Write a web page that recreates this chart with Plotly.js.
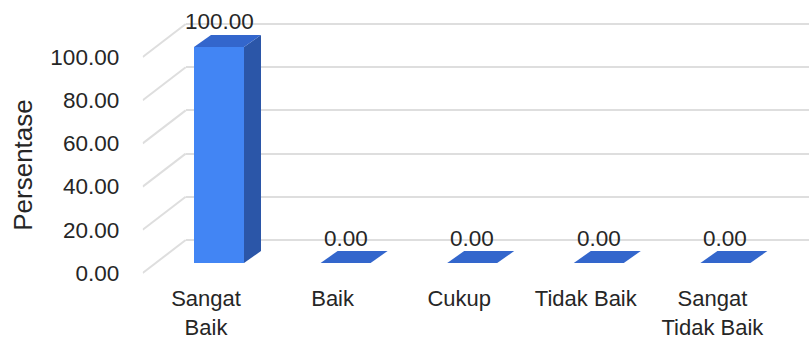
<!DOCTYPE html>
<html>
<head>
<meta charset="utf-8">
<script src="https://cdn.plot.ly/plotly-3.0.1.min.js"></script>
<style>
  html, body { margin: 0; padding: 0; background: #ffffff; }
  #chart { width: 809px; height: 340px; }
</style>
</head>
<body>
<div id="chart"></div>
<script>
// ---- data ----
const categories = ['Sangat Baik', 'Baik', 'Cukup', 'Tidak Baik', 'Sangat Tidak Baik'];
const tickLabels = ['Sangat<br>Baik', 'Baik', 'Cukup', 'Tidak Baik', 'Sangat<br>Tidak Baik'];
const values = [100, 0, 0, 0, 0];
const yTicks = [0, 20, 40, 60, 80, 100];
const yTitle = 'Persentase';

// ---- geometry of the pseudo-3D box (pixels) ----
const W = 809, H = 340;
const frontLeft = 142.7;      // left edge of the front plane
const catPx = 126.6;          // pixels per category slot
const zeroPx = 273;           // front-plane y of value 0
const unitPx = 2.16;          // pixels per value unit
const floorDepth = [43, 33];  // front plane -> back wall
const barInset = [13, 10];    // front plane -> bar front face
const barDepth = [17, 12];    // bar front face -> bar back face
const barWidthPx = 50;
const yLo = -25, yHi = 125;   // symmetric pad so the title centres on 0..100

const DX = floorDepth[0] / catPx, DY = floorDepth[1] / unitPx;
const barW = barWidthPx / catPx;
const barX = -(floorDepth[0] - barInset[0]) / catPx;
const barBase = -(floorDepth[1] - barInset[1]) / unitPx;
const bdx = barDepth[0] / catPx, bdy = barDepth[1] / unitPx;

const yDomain = [(H - (zeroPx - yLo * unitPx)) / H, (H - (zeroPx - yHi * unitPx)) / H];
const idx = categories.map((_, i) => i);

const family = 'Liberation Sans, Arial, sans-serif';
const textCol = '#262626';
const font = { family: family, size: 22.5, color: textCol };
const catFont = { family: family, size: 22, color: textCol };
const gridCol = '#dedede';
const frontCol = '#4285f4', sideCol = '#2b56a8', topCol = '#3366cc';

// bar front faces on the back-wall axes
const bars = {
  type: 'bar', x: idx, y: values, base: barBase,
  width: barW, offset: barX - barW / 2,
  marker: { color: frontCol, line: { width: 0 } },
  hoverinfo: 'skip', showlegend: false, xaxis: 'x', yaxis: 'y'
};
// empty trace that keeps the front-plane subplot alive
const frontPlane = {
  type: 'scatter', mode: 'markers', x: [], y: [],
  xaxis: 'x2', yaxis: 'y2', hoverinfo: 'skip', showlegend: false
};

const shapes = [];
values.forEach((v, i) => {
  const xl = i + barX - barW / 2, xr = xl + barW;
  const yb = barBase, yt = barBase + v;
  if (v > 0) {
    shapes.push({
      type: 'path', xref: 'x', yref: 'y', layer: 'above',
      path: `M${xr},${yb} L${xr + bdx},${yb + bdy} L${xr + bdx},${yt + bdy} L${xr},${yt} Z`,
      fillcolor: sideCol, line: { width: 0 }
    });
  }
  shapes.push({
    type: 'path', xref: 'x', yref: 'y', layer: 'above',
    path: `M${xl},${yt} L${xr},${yt} L${xr + bdx},${yt + bdy} L${xl + bdx},${yt + bdy} Z`,
    fillcolor: topCol, line: { width: 0 }
  });
});
// floor-to-wall connectors for each tick
yTicks.forEach(t => {
  shapes.push({
    type: 'line', xref: 'x2', yref: 'y2', layer: 'below',
    x0: -0.5, y0: t, x1: -0.5 + DX, y1: t + DY,
    line: { color: gridCol, width: 2 }
  });
});

const annotations = values.map((v, i) => ({
  xref: 'x', yref: 'y', x: i + barX, y: barBase + v + bdy,
  text: v.toFixed(2), showarrow: false, yanchor: 'middle', yshift: 13,
  font: font
}));

const layout = {
  width: W, height: H,
  margin: { l: 0, r: 0, t: 0, b: 0 },
  paper_bgcolor: '#ffffff', plot_bgcolor: 'rgba(0,0,0,0)',
  font: font,
  showlegend: false,
  // back wall
  xaxis: {
    domain: [(frontLeft + floorDepth[0]) / W, 1],
    range: [-0.5, -0.5 + (W - frontLeft - floorDepth[0]) / catPx],
    showgrid: false, zeroline: false, showticklabels: false, showline: false,
    fixedrange: true
  },
  yaxis: {
    domain: yDomain,
    range: [yLo - DY, yHi - DY],
    tickvals: yTicks, showticklabels: false,
    showgrid: true, gridcolor: gridCol, gridwidth: 2,
    zeroline: false, showline: false, fixedrange: true
  },
  // front plane: category and value labels
  xaxis2: {
    domain: [frontLeft / W, (frontLeft + categories.length * catPx) / W],
    range: [-0.5, categories.length - 0.5],
    anchor: 'free', position: (H - zeroPx) / H,
    tickvals: idx, ticktext: tickLabels,
    ticks: 'outside', ticklen: 6, tickcolor: 'rgba(0,0,0,0)',
    showgrid: false, zeroline: false, showline: false,
    tickfont: catFont, fixedrange: true
  },
  yaxis2: {
    domain: yDomain, anchor: 'x2',
    range: [yLo, yHi],
    tickvals: yTicks, tickformat: '.2f',
    ticks: 'outside', ticklen: 18, tickcolor: 'rgba(0,0,0,0)',
    showgrid: false, zeroline: false, showline: false,
    tickfont: font,
    title: { text: yTitle, font: { family: family, size: 26, color: textCol }, standoff: 10 },
    fixedrange: true
  },
  shapes: shapes,
  annotations: annotations
};

Plotly.newPlot('chart', [bars, frontPlane], layout, { displayModeBar: false, staticPlot: true });
</script>
</body>
</html>
